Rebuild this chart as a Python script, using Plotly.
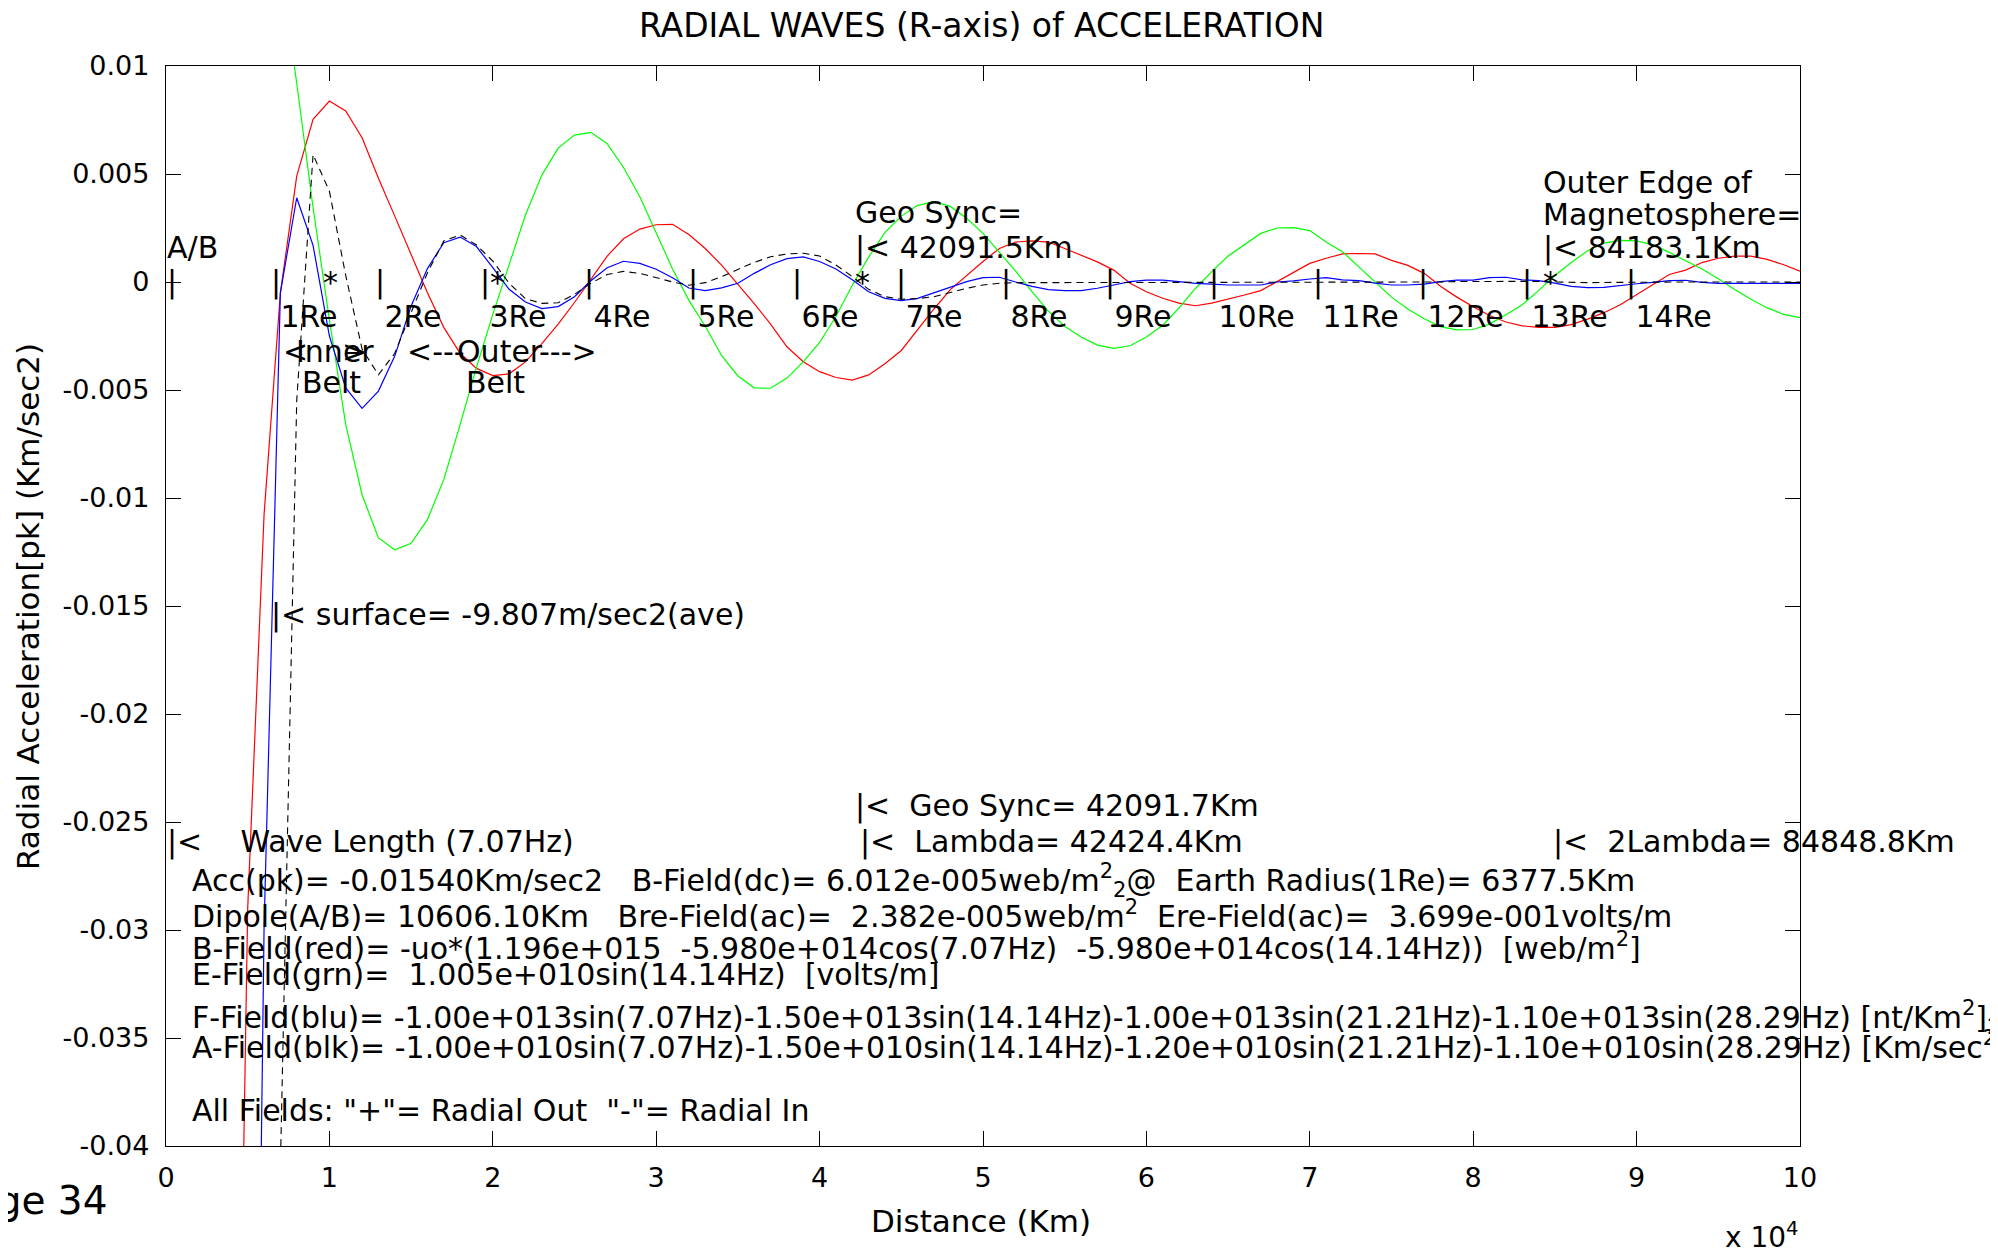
import plotly.graph_objects as go

# ---------------- data ----------------
distance_km = [
    4000, 5000, 6000, 7000, 8000, 9000, 10000, 11000, 12000, 13000,
    14000, 15000, 16000, 17000, 18000, 19000, 20000, 21000, 22000, 23000,
    24000, 25000, 26000, 27000, 28000, 29000, 30000, 31000, 32000, 33000,
    34000, 35000, 36000, 37000, 38000, 39000, 40000, 41000, 42000, 43000,
    44000, 45000, 46000, 47000, 48000, 49000, 50000, 51000, 52000, 53000,
    54000, 55000, 56000, 57000, 58000, 59000, 60000, 61000, 62000, 63000,
    64000, 65000, 66000, 67000, 68000, 69000, 70000, 71000, 72000, 73000,
    74000, 75000, 76000, 77000, 78000, 79000, 80000, 81000, 82000, 83000,
    84000, 85000, 86000, 87000, 88000, 89000, 90000, 91000, 92000, 93000,
    94000, 95000, 96000, 97000, 98000, 99000, 100000,
]

b_field_red = [
    -0.075, -0.029, -0.0108, -0.0005, 0.0049, 0.00753, 0.00838, 0.00792, 0.00668, 0.0048,
    0.00305, 0.00125, -0.0005, -0.0021, -0.0033, -0.004, -0.00433, -0.00425, -0.0037, -0.00285,
    -0.00195, -0.00095, 0.00015, 0.0012, 0.002, 0.00245, 0.00265, 0.00267, 0.0022, 0.00155,
    0.00078, -0.0001, -0.001, -0.00195, -0.003, -0.00369, -0.00415, -0.00442, -0.00454, -0.0043,
    -0.00378, -0.00317, -0.0022, -0.00125, -0.00035, 0.0003, 0.00095, 0.00155, 0.00185, 0.0019,
    0.00185, 0.00155, 0.00125, 0.00093, 0.00055, -0.00006, -0.00045, -0.00075, -0.00098, -0.0011,
    -0.00098, -0.0008, -0.0006, -0.0004, 0.00002, 0.00045, 0.00086, 0.0011, 0.0013, 0.00132,
    0.0013, 0.001, 0.00077, 0.0004, -0.0002, -0.0007, -0.00115, -0.00155, -0.00185, -0.00203,
    -0.0021, -0.0021, -0.00197, -0.00172, -0.00142, -0.00105, -0.00058, -0.00014, 0.00035, 0.00055,
    0.0009, 0.0011, 0.0012, 0.0012, 0.00105, 0.0008, 0.0005,
]

e_field_green = [
    0.06, 0.045, 0.03, 0.0147, 0.0092, 0.00345, -0.00175, -0.0066, -0.00985, -0.01185,
    -0.0124, -0.0121, -0.011, -0.00915, -0.0066, -0.00395, -0.0015, 0.00085, 0.0031, 0.00495,
    0.0062, 0.0068, 0.00693, 0.0064, 0.0053, 0.00395, 0.00225, 0.0006, -0.00085, -0.00205,
    -0.0034, -0.00435, -0.0049, -0.00492, -0.00445, -0.0037, -0.0028, -0.0016, -0.00015, 0.00115,
    0.0023, 0.00305, 0.00355, 0.00372, 0.0035, 0.00295, 0.00225, 0.0014, 0.0005, -0.00045,
    -0.00135, -0.00205, -0.00255, -0.00292, -0.00307, -0.00295, -0.00255, -0.002, -0.0012, -0.0003,
    0.00048, 0.0012, 0.00172, 0.00225, 0.0025, 0.00252, 0.00238, 0.00185, 0.0014, 0.0007,
    -0.00003, -0.0007, -0.00125, -0.0017, -0.00207, -0.00222, -0.0022, -0.00195, -0.00152, -0.00105,
    -0.0004, 0.0003, 0.0009, 0.00145, 0.0018, 0.00193, 0.0019, 0.00172, 0.00137, 0.00097,
    0.0006, 0.00015, -0.00035, -0.0008, -0.0012, -0.0015, -0.00165,
]

f_field_blue = [
    -0.2, -0.09, -0.03, -0.0005, 0.0039, 0.0017, -0.0025, -0.0049, -0.00585, -0.00505,
    -0.00343, -0.00111, 0.00062, 0.00182, 0.00208, 0.00164, 0.00066, -0.00034, -0.00093, -0.00123,
    -0.00114, -0.00068, 0.00006, 0.00066, 0.00096, 0.00086, 0.00059, 0.0002, -0.00028, -0.0004,
    -0.00027, -0.00006, 0.0004, 0.0008, 0.00108, 0.00116, 0.00095, 0.0006, 0.0001, -0.00045,
    -0.00076, -0.00086, -0.00076, -0.0005, -0.00022, 0.00002, 0.0002, 0.00022, 0.0, -0.0002,
    -0.00035, -0.0004, -0.0004, -0.00029, -0.00014, 0.00002, 0.00009, 0.00009, 0.00002, -0.00006,
    -0.0001, -0.00014, -0.00014, -0.00014, 0.0, 0.00005, 0.00014, 0.0002, 0.0001, 0.00006,
    -0.00005, -0.00014, -0.00014, -0.0001, 0.00002, 0.00009, 0.00009, 0.0002, 0.00022, 0.0001,
    0.00006, -0.00005, -0.0002, -0.00026, -0.00025, -0.00015, -0.00008, -0.00002, 0.00006, 0.00008,
    -0.00002, -0.00006, -0.00006, -0.00005, -0.00006, -0.00006, -0.00006,
]

a_field_black = [
    -0.5, -0.3, -0.15, -0.041, -0.0055, 0.0059, 0.0042, 0.0003, -0.0031, -0.0043,
    -0.0033, -0.00142, 0.00043, 0.0019, 0.00218, 0.00171, 0.00097, -0.00006, -0.00077, -0.00099,
    -0.00096, -0.00057, -0.00006, 0.00035, 0.00049, 0.0004, 0.0002, 0.0, -0.00015, -0.00003,
    0.00025, 0.00059, 0.00091, 0.00117, 0.0013, 0.00133, 0.0012, 0.00079, 0.00025, -0.00034,
    -0.00068, -0.0008, -0.00077, -0.00068, -0.00049, -0.00029, -0.00014, -0.00006, -0.00003, -0.00003,
    -0.00003, -0.00002, -0.00002, -0.00003, -0.00003, -0.00002, -0.00002, -0.00003, -0.00002, -0.00001,
    -0.00001, 0.0, 0.0, -0.00002, -0.00002, -0.00002, -0.00001, -0.00002, -0.00002, -0.00003,
    -0.00003, -0.00003, -0.00002, -0.00001, 0.0, 0.00002, 0.00003, 0.00004, 0.00004, 0.00003,
    0.00002, 0.0, -0.00002, -0.00003, -0.00002, -0.00001, 0.0, 0.00001, 0.00001, 0.0,
    0.0, 0.0, 0.0, 0.0, 0.0, 0.0, 0.0,
]

x_tick_vals = [0, 10000, 20000, 30000, 40000, 50000, 60000, 70000, 80000, 90000, 100000]
x_tick_text = ['0', '1', '2', '3', '4', '5', '6', '7', '8', '9', '10']
y_tick_vals = [-0.04, -0.035, -0.03, -0.025, -0.02, -0.015, -0.01, -0.005, 0, 0.005, 0.01]
y_tick_text = ['-0.04', '-0.035', '-0.03', '-0.025', '-0.02', '-0.015', '-0.01', '-0.005', '0', '0.005', '0.01']

earth_radius_marks = [6377.5, 12755, 19132.5, 25510, 31887.5, 38265, 44642.5,
                      51020, 57397.5, 63775, 70152.5, 76530, 82907.5, 89285]
earth_radius_labels = ['1Re', '2Re', '3Re', '4Re', '5Re', '6Re', '7Re',
                       '8Re', '9Re', '10Re', '11Re', '12Re', '13Re', '14Re']
star_marks = [9566, 19770, 42091.5, 84183.1]

# ---------------- figure ----------------
FONT = 'DejaVu Sans'
# the page body has an 8px margin, so the figure is 8px smaller than the window
W, H = 1990, 1245
L, R, T, B = 158, 198, 58, 107
OFF = 8  # page offset of the figure

fig = go.Figure()
fig.add_trace(go.Scatter(x=distance_km, y=b_field_red, mode='lines',
                         line=dict(color='#ff0000', width=1.2), name='B-Field'))
fig.add_trace(go.Scatter(x=distance_km, y=e_field_green, mode='lines',
                         line=dict(color='#00ff00', width=1.2), name='E-Field'))
fig.add_trace(go.Scatter(x=distance_km, y=f_field_blue, mode='lines',
                         line=dict(color='#0000ff', width=1.2), name='F-Field'))
fig.add_trace(go.Scatter(x=distance_km, y=a_field_black, mode='lines',
                         line=dict(color='#000000', width=1.1, dash='7px,5px'), name='A-Field'))

annotations = []


def txt(s):
    return s.replace(' ', '\u00a0')


def add(x, y, s, size=30, xanchor='left', yanchor='middle', xref='x', yref='y', angle=0):
    annotations.append(dict(x=x, y=y, xref=xref, yref=yref, text=txt(s), showarrow=False,
                            xanchor=xanchor, yanchor=yanchor, textangle=angle, borderpad=0,
                            font=dict(family=FONT, size=size, color='black')))


# in-plot markers
add(0, 0.00158, 'A/B')
add(0, 0, '|')
for xm, lab in zip(earth_radius_marks, earth_radius_labels):
    add(xm, 0, '|')
    add(xm, -0.00159, ' ' + lab)
for xs in star_marks:
    add(xs, 0, '*')

add(7120, -0.00321, '&lt;')
add(7876, -0.00321, 'Inner')
add(10710, -0.00321, '&gt;')
add(8262, -0.00467, 'Belt')
add(14690, -0.00321, '&lt;---')
add(17750, -0.00321, 'Outer')
add(22770, -0.00321, '---&gt;')
add(18280, -0.00467, 'Belt')

add(42091.5, 0.0032, 'Geo Sync=')
add(42091.5, 0.00158, '|&lt; 42091.5Km')
add(84183.1, 0.0046, 'Outer Edge of')
add(84183.1, 0.00312, 'Magnetosphere=')
add(84183.1, 0.00157, '|&lt; 84183.1Km')

add(6377.5, -0.0154, '|&lt; surface= -9.807m/sec2(ave)')

add(42091.7, -0.02427, '|&lt;  Geo Sync= 42091.7Km')
add(0, -0.02594, '|&lt;    Wave Length (7.07Hz)')
add(42424.4, -0.02594, '|&lt;  Lambda= 42424.4Km')
add(84848.8, -0.02594, '|&lt;  2Lambda= 84848.8Km')

TX = 1530
add(TX, -0.02771, 'Acc(pk)= -0.01540Km/sec2   B-Field(dc)= 6.012e-005web/m<sup>2</sup><sub>2</sub>@  Earth Radius(1Re)= 6377.5Km')
add(TX, -0.02926, 'Dipole(A/B)= 10606.10Km   Bre-Field(ac)=  2.382e-005web/m<sup>2</sup>  Ere-Field(ac)=  3.699e-001volts/m')
add(TX, -0.03076, 'B-Field(red)= -uo*(1.196e+015  -5.980e+014cos(7.07Hz)  -5.980e+014cos(14.14Hz))  [web/m<sup>2</sup>]')
add(TX, -0.03207, 'E-Field(grn)=  1.005e+010sin(14.14Hz)  [volts/m]')
add(TX, -0.03403, 'F-Field(blu)= -1.00e+013sin(7.07Hz)-1.50e+013sin(14.14Hz)-1.00e+013sin(21.21Hz)-1.10e+013sin(28.29Hz) [nt/Km<sup>2</sup>]<sub>2</sub>')
add(TX, -0.03536, 'A-Field(blk)= -1.00e+010sin(7.07Hz)-1.50e+010sin(14.14Hz)-1.20e+010sin(21.21Hz)-1.10e+010sin(28.29Hz) [Km/sec<sup>2</sup>]')
add(TX, -0.03835, 'All Fields: "+"= Radial Out  "-"= Radial In')

# titles and outside texts (paper coords, measured in page pixels)
pw, ph = W - L - R, H - T - B
px0, py1 = L + OFF, H - B + OFF   # page x of plot left, page y of plot bottom


def paper_x(page_x):
    return (page_x - px0) / pw


def paper_y(page_y):
    return (py1 - page_y) / ph


add(paper_x(981), paper_y(25.5), 'RADIAL WAVES (R-axis) of ACCELERATION',
    size=33, xanchor='center', xref='paper', yref='paper')
add(paper_x(981), paper_y(1220.5), 'Distance (Km)', size=31, xanchor='center',
    xref='paper', yref='paper')
add(paper_x(28), paper_y(607), 'Radial Acceleration[pk] (Km/sec2)', size=31,
    xanchor='center', xref='paper', yref='paper', angle=-90)
add(1.0, paper_y(1235), 'x 10<sup>4</sup>', size=28, xanchor='right',
    xref='paper', yref='paper')
add(paper_x(108), paper_y(1201), 'Page 34', size=39, xanchor='right',
    xref='paper', yref='paper')

axis_common = dict(showline=True, linecolor='black', linewidth=1.3, mirror='ticks',
                   ticks='inside', ticklen=15, tickcolor='black', tickwidth=1,
                   showgrid=False, zeroline=False,
                   tickfont=dict(family=FONT, size=27, color='black'))

fig.update_layout(
    width=W, height=H,
    margin=dict(l=L, r=R, t=T, b=B, pad=0),
    paper_bgcolor='white', plot_bgcolor='white',
    showlegend=False,
    annotations=annotations,
    xaxis=dict(range=[0, 100000], tickvals=x_tick_vals, ticktext=x_tick_text,
               ticklabelstandoff=7, **axis_common),
    yaxis=dict(range=[-0.04, 0.01], tickvals=y_tick_vals, ticktext=y_tick_text,
               ticklabelstandoff=10, **axis_common),
)

fig.write_html('out.html')
